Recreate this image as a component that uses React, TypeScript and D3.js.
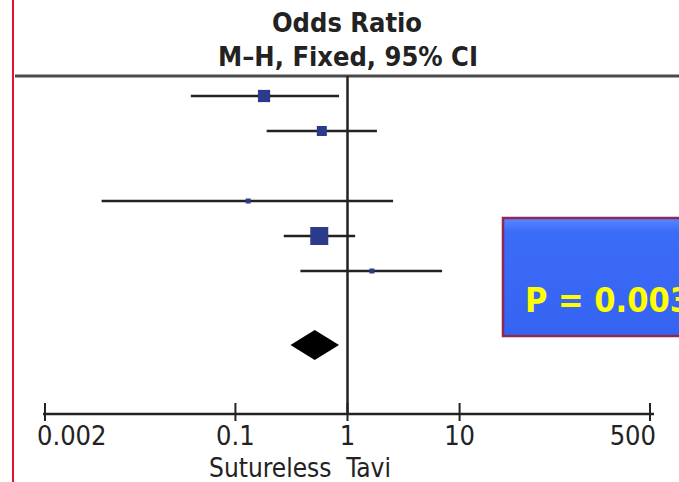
import React from 'react';
import * as d3 from 'd3';

// rows of the forest plot, blanks are spacer rows
const rows = ['s1', 's2', 'gap1', 's3', 's4', 's5', 'gap2', 'total'];

const studyRows = ['s1', 's2', 's3', 's4', 's5'];
const oddsRatio = [0.18, 0.59, 0.13, 0.56, 1.65];
const ciLow = [0.04, 0.19, 0.0064, 0.27, 0.38];
const ciHigh = [0.84, 1.83, 2.55, 1.17, 6.98];
const weights = [24, 16, 4, 52, 4];

const pooled = { or: 0.51, lo: 0.31, hi: 0.84 };

const tickValues = [0.002, 0.1, 1, 10, 500];
const tickLabels = ['0.002', '0.1', '1', '10', '500'];

const W = 679;
const H = 482;
const font = '"DejaVu Sans Condensed", "DejaVu Sans", sans-serif';

export default function App() {
  const x = d3.scaleLog().domain([0.002, 500]).range([45, 650]);
  const y = d3.scalePoint().domain(rows).range([96, 341]);
  const size = d3.scaleSqrt().domain([0, 52]).range([0, 18]);

  const axisY = 414;
  const diamondY = (y('total') as number) + 4;
  const diamond = d3.line()([
    [x(pooled.lo), diamondY],
    [x(pooled.or), diamondY - 15],
    [x(pooled.hi), diamondY],
    [x(pooled.or), diamondY + 15],
  ]) + 'Z';

  const lastTick = tickValues.length - 1;

  return (
    <svg width={W} height={H} style={{ position: 'absolute', left: 0, top: 0, background: '#fff' }}>
      <defs>
        <linearGradient id="boxFill" x1="0" y1="0" x2="0" y2="1">
          <stop offset="0" stopColor="#5b86ff" />
          <stop offset="0.12" stopColor="#3b6cf8" />
          <stop offset="1" stopColor="#3563f2" />
        </linearGradient>
      </defs>

      {/* red left border */}
      <line x1={13} x2={13} y1={0} y2={H} stroke="#e8102a" strokeWidth={2} />

      {/* header */}
      <text x={347} y={32} textAnchor="middle" fontFamily={font} fontWeight="bold" fontSize={27} fill="#222">
        Odds Ratio
      </text>
      <text x={348} y={66} textAnchor="middle" fontFamily={font} fontWeight="bold" fontSize={27} fill="#222">
        M–H, Fixed, 95% CI
      </text>
      <line x1={15} x2={W} y1={76} y2={76} stroke="#4a4a4a" strokeWidth={3} />

      {/* line of no effect */}
      <line x1={x(1)} x2={x(1)} y1={76} y2={axisY} stroke="#222" strokeWidth={2.5} />

      {/* studies */}
      {studyRows.map((r, i) => {
        const cy = y(r) as number;
        const s = Math.max(size(weights[i]), 4);
        return (
          <g key={r}>
            <line x1={x(ciLow[i])} x2={x(ciHigh[i])} y1={cy} y2={cy} stroke="#222" strokeWidth={2.5} />
            <rect
              x={x(oddsRatio[i]) - s / 2}
              y={cy - s / 2}
              width={s}
              height={s}
              fill="#2c3a8c"
            />
          </g>
        );
      })}

      {/* pooled estimate */}
      <path d={diamond} fill="#000" />

      {/* axis */}
      <line x1={x(0.002) - 2} x2={x(500) + 4} y1={axisY} y2={axisY} stroke="#222" strokeWidth={2.5} />
      {tickValues.map((t, i) => (
        <g key={t}>
          <line x1={x(t)} x2={x(t)} y1={axisY - 11} y2={axisY + 7} stroke="#222" strokeWidth={2} />
          <text
            x={i === 0 ? x(t) - 8 : i === lastTick ? x(t) + 6 : x(t)}
            y={445}
            textAnchor={i === 0 ? 'start' : i === lastTick ? 'end' : 'middle'}
            fontFamily={font}
            fontSize={27}
            fill="#222"
          >
            {tickLabels[i]}
          </text>
        </g>
      ))}
      <text x={300} y={477} textAnchor="middle" fontFamily={font} fontSize={26} fill="#222" style={{ whiteSpace: 'pre' }}>
        {'Sutureless  Tavi'}
      </text>

      {/* p-value box */}
      <rect x={503} y={218} width={200} height={118} fill="url(#boxFill)" stroke="#8c2a55" strokeWidth={2.5} />
      <text x={525} y={312} fontFamily={font} fontWeight="bold" fontSize={34} fill="#ffff00">
        P = 0.003
      </text>
    </svg>
  );
}
